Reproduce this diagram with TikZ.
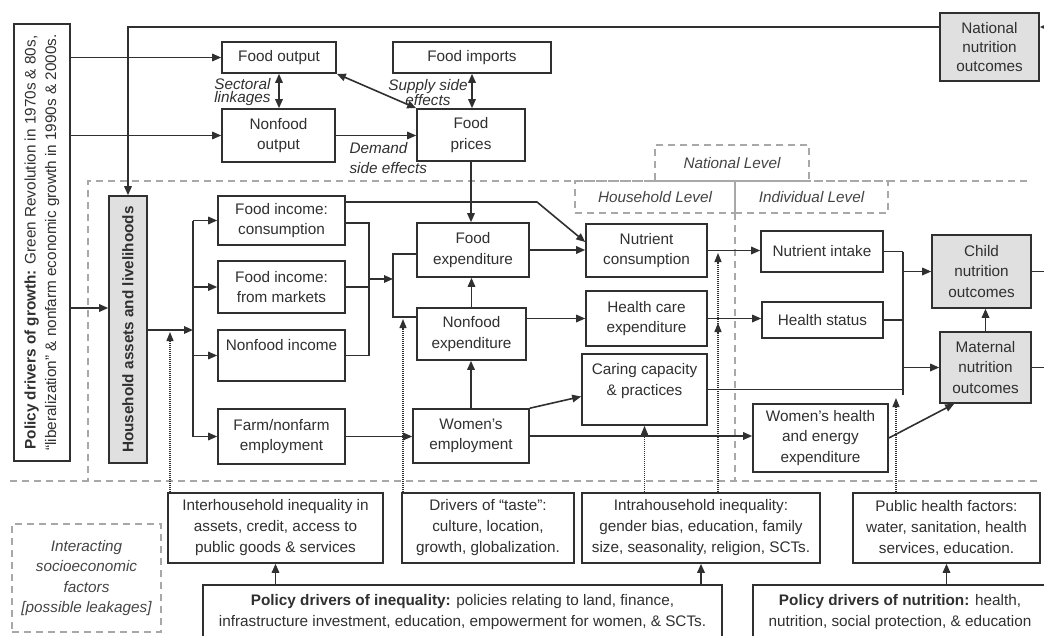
\documentclass[tikz,border=0pt]{standalone}
\usepackage{fontspec}
\setmainfont{Liberation Sans}
\usetikzlibrary{arrows.meta,calc}
\definecolor{ink}{HTML}{303030}
\definecolor{shade}{HTML}{E0E0E0}
\definecolor{dashc}{HTML}{A8A8A8}
\definecolor{labc}{HTML}{444444}
\begin{document}
\begin{tikzpicture}[x=1pt,y=-1pt,
  every node/.style={font=\fontsize{15.3}{20.5}\selectfont, text=ink},
  box/.style={draw=ink, line width=1.6pt, fill=white, inner sep=2pt, align=center},
  gbox/.style={box, fill=shade},
  lvl/.style={draw=dashc, line width=1.1pt, dash pattern=on 7pt off 5pt, align=center,
    font=\fontsize{15.3}{20.5}\selectfont\itshape, text=labc},
  conn/.style={draw=ink, line width=1.6pt},
  arr/.style={conn, -{Triangle[length=9pt,width=7.5pt]}},
  darr/.style={conn, {Triangle[length=9pt,width=7.5pt]}-{Triangle[length=9pt,width=7.5pt]}},
  dotarr/.style={draw=ink, line width=1.3pt, dash pattern=on 1pt off 1pt, -{Triangle[length=9pt,width=7pt]}},
  dline/.style={draw=dashc, line width=1.1pt, dash pattern=on 7pt off 5pt},
]
\useasboundingbox (0,0) rectangle (1044,635);
\clip (0,0) rectangle (1044,635);

% dashed frame lines
\draw[dline] (1027,181) -- (88,181) -- (88,481);
\draw[dline] (10,481) -- (1040,481);
\draw[dline] (735,213) -- (735,481);

% level labels
\node[lvl, minimum width=154pt, minimum height=36pt] (natlvl) at (732,163) {National Level};
\node[lvl, minimum width=160pt, minimum height=32pt] (hhlvl) at (655,197) {Household Level};
\node[lvl, minimum width=153pt, minimum height=32pt] (indlvl) at (811.5,197) {Individual Level};
\node[lvl, minimum width=149pt, minimum height=108pt] (interact) at (86.5,578) {Interacting\\socioeconomic\\factors\\{}[possible leakages]};

% top nodes
\node[box, rotate=90, minimum width=437pt, minimum height=56pt] (policy) at (42,242.5)
  {\textbf{Policy drivers of growth:} Green Revolution in 1970s \& 80s,\\“liberalization” \& nonfarm economic growth in 1990s \& 2000s.};
\node[box, minimum width=114pt, minimum height=31pt] (foodout) at (279,57.5) {Food output};
\node[box, minimum width=113pt, minimum height=53pt] (nonfoodout) at (278.5,135.5) {Nonfood\\output};
\node[box, minimum width=158pt, minimum height=31pt] (foodimp) at (472,57.5) {Food imports};
\node[box, minimum width=108pt, minimum height=52pt] (foodprices) at (471,135) {Food\\prices};
\node[gbox, minimum width=99pt, minimum height=68pt, font=\fontsize{15.3}{19}\selectfont] (national) at (989.5,47) {National\\nutrition\\outcomes};

% labels
\node[font=\fontsize{15.3}{13.5}\selectfont\itshape, align=right, anchor=east] (sectlab) at (274,92) {Sectoral\\linkages};
\node[font=\fontsize{15.3}{14}\selectfont\itshape, align=center] (supplab) at (428,92.5) {Supply side\\effects};
\node[font=\fontsize{15.3}{20}\selectfont\itshape, align=left, anchor=west] (demlab) at (346,158) {Demand\\side effects};

% middle nodes
\node[gbox, rotate=90, minimum width=267pt, minimum height=38pt, font=\fontsize{15.3}{20.5}\selectfont\bfseries] (household) at (128,329.5) {Household assets and livelihoods};
\node[box, minimum width=127pt, minimum height=49pt] (fic) at (281.5,220.5) {Food income:\\consumption};
\node[box, minimum width=127pt, minimum height=52pt] (fim) at (281.5,287) {Food income:\\from markets};
\node[box, minimum width=127pt, minimum height=51pt] (nfi) at (281.5,355.5) {Nonfood income\\~};
\node[box, minimum width=127pt, minimum height=55pt] (farm) at (281.5,436.5) {Farm/nonfarm\\employment};
\node[box, minimum width=112pt, minimum height=54pt] (foodexp) at (473,250) {Food\\expenditure};
\node[box, minimum width=109pt, minimum height=52pt] (nonfoodexp) at (471.5,334) {Nonfood\\expenditure};
\node[box, minimum width=116pt, minimum height=54pt] (womenemp) at (471,436) {Women’s\\employment};
\node[box, minimum width=121pt, minimum height=53pt] (nutcons) at (646.5,250.5) {Nutrient\\consumption};
\node[box, minimum width=121pt, minimum height=55pt] (healthcare) at (646.5,318.5) {Health care\\expenditure};
\node[box, minimum width=125pt, minimum height=71pt] (caring) at (644.5,389.5) {Caring capacity\\\& practices\\~};
\node[box, minimum width=122pt, minimum height=41pt] (nutintake) at (822,251.5) {Nutrient intake};
\node[box, minimum width=121pt, minimum height=36pt] (healthstatus) at (822.5,320) {Health status};
\node[box, minimum width=135pt, minimum height=68pt] (womenhealth) at (820.5,438) {Women’s health\\and energy\\expenditure};
\node[gbox, minimum width=99pt, minimum height=73pt] (child) at (981.5,271.5) {Child\\nutrition\\outcomes};
\node[gbox, minimum width=91pt, minimum height=71pt] (maternal) at (985.5,367.5) {Maternal\\nutrition\\outcomes};

% bottom nodes
\node[box, minimum width=215pt, minimum height=70pt, font=\fontsize{15.3}{21}\selectfont] (interhh) at (275.5,528) {Interhousehold inequality in\\assets, credit, access to\\public goods \& services};
\node[box, minimum width=172pt, minimum height=70pt, font=\fontsize{15.3}{21}\selectfont] (taste) at (488,528) {Drivers of “taste”:\\culture, location,\\growth, globalization.};
\node[box, minimum width=238pt, minimum height=70pt, font=\fontsize{15.3}{21}\selectfont] (intrahh) at (701,528) {Intrahousehold inequality:\\gender bias, education, family\\size, seasonality, religion, SCTs.};
\node[box, minimum width=187pt, minimum height=70pt, font=\fontsize{15.3}{21}\selectfont] (publichealth) at (946.5,528) {Public health factors:\\water, sanitation, health\\services, education.};
\node[box, minimum width=519pt, minimum height=55pt, font=\fontsize{15.3}{21}\selectfont] (polineq) at (462.5,612.5) {\textbf{Policy drivers of inequality:} policies relating to land, finance,\\infrastructure investment, education, empowerment for women, \& SCTs.};
\node[box, minimum width=294pt, minimum height=55pt, font=\fontsize{15.3}{21}\selectfont] (polnut) at (900,612.5) {\textbf{Policy drivers of nutrition:} health,\\nutrition, social protection, \& education};

% coordinates
\coordinate (topl) at (0,27);
\coordinate (redge) at (1044,27);
\coordinate (hh) at (0,308);
\coordinate (tr) at (193,330);
\coordinate (d1) at (170,332);
\coordinate (k1) at (537,202);
\coordinate (k2) at (586,242);
\coordinate (b1t) at (369,223);
\coordinate (b1m) at (369,279);
\coordinate (b2t) at (393,254);
\coordinate (b2b) at (393,317);
\coordinate (d2) at (403,319);
\coordinate (d3) at (718,253);
\coordinate (d3m) at (718,323);
\coordinate (d4) at (896,398);
\coordinate (r1) at (903,251);
\coordinate (r2) at (903,395);
\coordinate (rend) at (1044,0);

% top connectors
\draw[arr] (redge) -- (national.east |- redge);
\draw[arr] (national.west |- topl) -- (household.east |- topl) -- (household.east);
\draw[arr] (policy.south |- foodout.west) -- (foodout.west);
\draw[arr] (policy.south |- nonfoodout.west) -- (nonfoodout.west);
\draw[arr] (policy.south |- hh) -- (household.north |- hh);
\draw[darr] (foodout.south) -- (foodout.south |- nonfoodout.north);
\draw[darr] (foodout.south east) -- (foodprices.north west);
\draw[darr] (foodimp.south) -- (foodimp.south |- foodprices.north);
\draw[arr] (nonfoodout.east) -- (nonfoodout.east -| foodprices.west);
\draw[arr] (foodprices.south) -- (foodprices.south |- foodexp.north);

% household branches
\draw[arr] (household.south |- tr) -- (tr);
\draw[conn] (tr |- fic.west) -- (tr |- farm.west);
\foreach \n in {fic,fim,nfi,farm} \draw[arr] (tr |- \n.west) -- (\n.west);
\draw[dotarr] (interhh.north -| d1) -- (d1);

% incomes to expenditures
\draw[arr] (fic.east |- k1) -- (k1) -- (nutcons.west |- k2);
\draw[conn] (fic.east |- b1t) -- (b1t) -- (b1t |- nfi.east) -- (nfi.east);
\draw[conn] (fim.east) -- (fim.east -| b1t);
\draw[arr] (b1m) -- (b1m -| b2t);
\draw[conn] (foodexp.west |- b2t) -- (b2t) -- (b2b) -- (nonfoodexp.west |- b2b);
\draw[dotarr] (taste.north -| d2) -- (d2);
\draw[arr] (nonfoodexp.north) -- (nonfoodexp.north |- foodexp.south);
\draw[arr] (womenemp.north) -- (womenemp.north |- nonfoodexp.south);
\draw[arr] (farm.east) -- (farm.east -| womenemp.west);

% expenditures to household level
\draw[arr] (foodexp.east) -- (foodexp.east -| nutcons.west);
\draw[arr] (healthcare.west -| nonfoodexp.east) -- (healthcare.west);
\draw[arr] (womenemp.north east) -- ([yshift=-7pt]caring.west);
\draw[arr] (womenemp.east) -- (womenemp.east -| womenhealth.west);
\draw[dotarr] (intrahh.north -| caring.south) -- (caring.south);

% household to individual
\draw[arr] (nutcons.east) -- (nutcons.east -| nutintake.west);
\draw[arr] (healthcare.east) -- (healthcare.east -| healthstatus.west);
\draw[dotarr] (intrahh.north -| d3) -- (d3);
\draw[dotarr] (intrahh.north -| d3) -- (d3m);

% individual to outcomes
\draw[conn] (nutintake.east) -- (nutintake.east -| r1);
\draw[conn] (healthstatus.east) -- (healthstatus.east -| r1);
\draw[conn] (caring.east) -- (caring.east -| r1);
\draw[conn] (r1 |- nutintake.east) -- (r2);
\draw[arr] (r1 |- child.west) -- (child.west);
\draw[arr] (r1 |- maternal.west) -- (maternal.west);
\draw[dotarr] (publichealth.north -| d4) -- (d4);
\draw[arr] (womenhealth.east) -- ([xshift=15pt]maternal.south west);
\draw[arr] (maternal.north) -- (maternal.north |- child.south);
\draw[conn] (child.east) -- (child.east -| rend);
\draw[conn] (maternal.east) -- (maternal.east -| rend);

% policy drivers to bottom factors
\draw[arr] (interhh.south |- polineq.north) -- (interhh.south);
\draw[arr] (intrahh.south |- polineq.north) -- (intrahh.south);
\draw[arr] (publichealth.south |- polnut.north) -- (publichealth.south);
\end{tikzpicture}
\end{document}
